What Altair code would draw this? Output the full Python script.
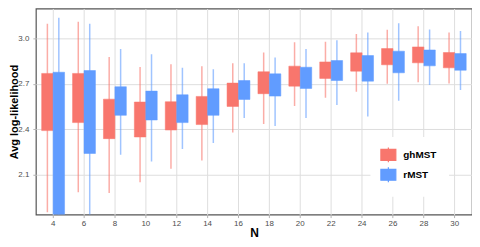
import altair as alt
import pandas as pd

N = [4, 6, 8, 10, 12, 14, 16, 18, 20, 22, 24, 26, 28, 30]
methods = ["ghMST", "rMST"]
colors = ["#F8766D", "#619CFF"]

gh_lower = [1.852, 1.984, 1.979, 2.050, 2.140, 2.194, 2.379, 2.436, 2.554, 2.609, 2.649, 2.701, 2.712, 2.704]
gh_q1 = [2.392, 2.445, 2.339, 2.350, 2.396, 2.432, 2.552, 2.636, 2.686, 2.737, 2.785, 2.827, 2.840, 2.807]
gh_q3 = [2.770, 2.770, 2.600, 2.581, 2.583, 2.618, 2.706, 2.781, 2.818, 2.846, 2.906, 2.934, 2.945, 2.908]
gh_upper = [3.099, 3.112, 2.879, 2.813, 2.831, 2.818, 2.838, 2.908, 2.976, 2.980, 3.031, 3.059, 3.081, 3.040]

r_lower = [1.30, 1.55, 2.232, 2.188, 2.271, 2.311, 2.475, 2.423, 2.475, 2.561, 2.486, 2.590, 2.693, 2.660]
r_q1 = [1.70, 2.241, 2.493, 2.462, 2.445, 2.493, 2.598, 2.620, 2.671, 2.723, 2.719, 2.774, 2.820, 2.791]
r_q3 = [2.778, 2.789, 2.682, 2.653, 2.629, 2.669, 2.723, 2.767, 2.811, 2.855, 2.888, 2.917, 2.925, 2.901]
r_upper = [3.138, 3.099, 2.932, 2.897, 2.807, 2.798, 2.838, 2.875, 2.932, 2.989, 3.040, 3.101, 3.061, 3.050]

y_ticks = [2.1, 2.4, 2.7, 3.0]

rows = []
for i, n in enumerate(N):
    rows.append(dict(N=n, method="ghMST", lower=gh_lower[i], q1=gh_q1[i], q3=gh_q3[i], upper=gh_upper[i]))
    rows.append(dict(N=n, method="rMST", lower=r_lower[i], q1=r_q1[i], q3=r_q3[i], upper=r_upper[i]))
df = pd.DataFrame(rows)

FONT = "Liberation Sans"

x_enc = alt.X(
    "N:O",
    title="N",
    scale=alt.Scale(paddingInner=0, paddingOuter=0.0575),
    axis=alt.Axis(labelAngle=0, titleY=18, titleBaseline="middle"),
)
xoff = alt.XOffset("method:N", scale=alt.Scale(paddingInner=0, paddingOuter=0.35))
yscale = alt.Scale(domain=[1.837, 3.199], nice=False, zero=False)
y_axis = alt.Axis(values=y_ticks, format=".1f", titleX=-21.5, titleY=103.5,
                  titleBaseline="middle", titleAlign="center", titleFontSize=11)

color_scale = alt.Scale(domain=methods, range=colors)

legend_kw = dict(
    title=None,
    orient="none",
    legendX=336,
    legendY=129,
    fillColor="white",
    padding=12,
    rowPadding=0,
    labelOffset=9,
    labelFont=FONT,
    labelFontSize=10,
    labelFontWeight="bold",
    labelColor="black",
    symbolType="M-1.5,-1.1H1.5V1.1H-1.5Z M0,-1.5V-1.1 M0,1.1V1.5",
    symbolSize=100,
    symbolStrokeWidth=1.2,
    symbolOpacity=1,
)

whiskers = alt.Chart(df).mark_rule(strokeWidth=1.5, opacity=0.6, clip=True).encode(
    x=x_enc,
    xOffset=xoff,
    y=alt.Y("lower:Q", scale=yscale, title="Avg log-likelihood", axis=y_axis),
    y2="upper:Q",
    color=alt.Color("method:N", scale=color_scale, legend=None),
)

boxes = alt.Chart(df).mark_bar(clip=True, strokeWidth=1, strokeOpacity=0.5).encode(
    x=x_enc,
    xOffset=xoff,
    y=alt.Y("q1:Q", scale=yscale, title="Avg log-likelihood", axis=y_axis),
    y2="q3:Q",
    color=alt.Color("method:N", scale=color_scale, legend=alt.Legend(**legend_kw)),
    stroke=alt.Stroke("method:N", scale=color_scale, legend=alt.Legend(**legend_kw)),
)

chart = (
    alt.layer(whiskers, boxes)
    .resolve_legend(color="independent", stroke="independent")
    .properties(
        width=438,
        height=207,
        padding={"left": 28, "top": 0, "right": 0, "bottom": 24},
        autosize=alt.AutoSizeParams(type="none"),
    )
    .configure_view(stroke="#555555", strokeWidth=1.2)
    .configure_axis(
        domain=False,
        grid=True,
        gridColor="#dedede",
        gridWidth=1,
        tickColor="#b3b3b3",
        tickSize=3,
        labelFont=FONT,
        labelFontSize=8,
        labelColor="#4d4d4d",
        titleFont=FONT,
        titleFontSize=12,
        titleFontWeight="bold",
        titleColor="black",
    )
    .configure_axisY(labelPadding=4)
    .configure_axisX(labelPadding=2)
)

chart.save("out.html", embed_options={"renderer": "svg", "actions": False})
